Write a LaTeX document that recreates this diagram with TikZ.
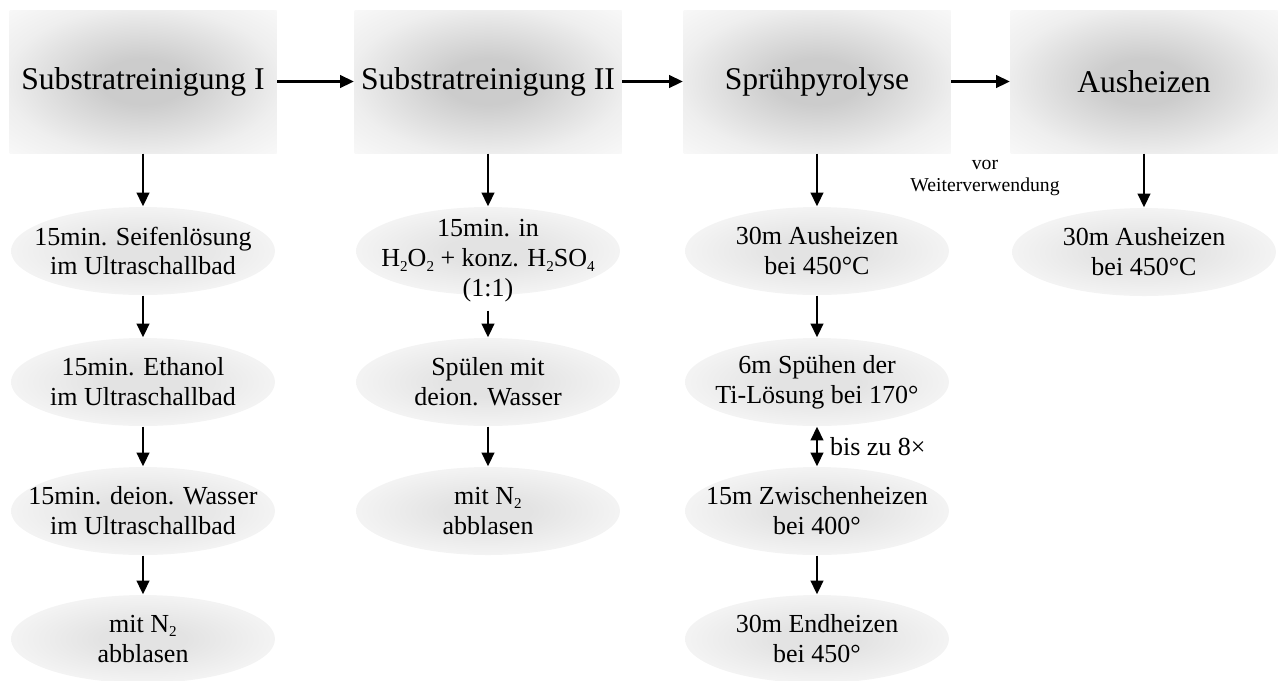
\documentclass[tikz,border=0pt]{standalone}
\usepackage{fontspec}
\setmainfont{Liberation Serif}
\usetikzlibrary{arrows.meta,shapes.geometric}
\newcommand{\chemsub}[1]{\raisebox{-0.35ex}{\fontsize{4.3}{4.3}\selectfont #1}}
\definecolor{boxc}{gray}{0.80}
\definecolor{boxm}{gray}{0.845}
\definecolor{boxn}{gray}{0.89}
\definecolor{boxe}{gray}{0.935}
\definecolor{boxo}{gray}{0.975}
\definecolor{ellc}{gray}{0.89}
\definecolor{elle}{gray}{0.955}
\pgfdeclareradialshading{boxshade}{\pgfpoint{0bp}{0bp}}{color(0bp)=(boxc); color(8bp)=(boxc); color(14bp)=(boxm); color(20bp)=(boxn); color(26bp)=(boxe); color(36bp)=(boxo); color(50bp)=(boxo)}
\pgfdeclareradialshading{ellshade}{\pgfpoint{0bp}{0bp}}{color(0bp)=(ellc); color(8bp)=(ellc); color(25bp)=(elle); color(50bp)=(elle)}
\tikzset{
  stepbox/.style={rectangle, minimum width=26.7mm, minimum height=14.3mm, inner sep=0pt,
    shade, shading=boxshade, font=\fontsize{9}{10.5}\selectfont},
  ellnode/.style={ellipse, minimum width=26.4mm, minimum height=8.8mm, inner sep=0pt,
    shade, shading=ellshade},
  elltext/.style={align=center, font=\fontsize{7.4}{8.5}\selectfont, inner sep=0pt},
  smalltext/.style={align=center, font=\fontsize{5.6}{6.5}\selectfont, inner sep=0pt},
  arr/.style={-{Triangle[length=3.9pt,width=3.6pt]}, line width=0.6pt},
  darr/.style={{Triangle[length=3.9pt,width=3.6pt]}-{Triangle[length=3.9pt,width=3.6pt]}, line width=0.6pt},
}
\begin{document}
\begin{tikzpicture}[x=0.1mm, y=-0.1mm]
\useasboundingbox (0,0) rectangle (1283,680);
% header boxes
\node[stepbox] (a0) at (143,81.5) {Substratreinigung I};
\node[stepbox] (b0) at (488,81.5) {Substratreinigung II};
\node[stepbox] (c0) at (817,81.5) {Sprühpyrolyse};
\node[stepbox] (d0) at (1144,81.5) {Ausheizen};
% column 1
\node[ellnode, label={[elltext]center:{15min. Seifenlösung\\im Ultraschallbad}}] (a1) at (143,251) {};
\node[ellnode, label={[elltext]center:{15min. Ethanol\\im Ultraschallbad}}] (a2) at (143,382) {};
\node[ellnode, label={[elltext]center:{15min. deion. Wasser\\im Ultraschallbad}}] (a3) at (143,511) {};
\node[ellnode, label={[elltext]center:{mit N\chemsub{2}\\abblasen}}] (a4) at (143,639) {};
% column 2
\node[ellnode, label={[elltext,yshift=-1mm]center:{15min. in\\H\chemsub{2}O\chemsub{2} + konz. H\chemsub{2}SO\chemsub{4}\\(1:1)}}] (b1) at (488,251) {};
\node[ellnode, label={[elltext]center:{Spülen mit\\deion. Wasser}}] (b2) at (488,382) {};
\node[ellnode, label={[elltext]center:{mit N\chemsub{2}\\abblasen}}] (b3) at (488,511) {};
% column 3
\node[ellnode, label={[elltext]center:{30m Ausheizen\\bei 450°C}}] (c1) at (817,251) {};
\node[ellnode, label={[elltext]center:{6m Spühen der\\Ti-Lösung bei 170°}}] (c2) at (817,382) {};
\node[ellnode, label={[elltext]center:{15m Zwischenheizen\\bei 400°}}] (c3) at (817,511) {};
\node[ellnode, label={[elltext]center:{30m Endheizen\\bei 450°}}] (c4) at (817,639) {};
% column 4
\node[ellnode, label={[elltext]center:{30m Ausheizen\\bei 450°C}}] (d1) at (1144,252) {};
\node[smalltext] (vw) at (985,178) {vor\\Weiterverwendung};
% connectors
\draw[arr] (a0.east) -- (b0.west);
\draw[arr] (b0.east) -- (c0.west);
\draw[arr] (c0.east) -- (d0.west);
\draw[arr] (a0.south) -- (a1.north);
\draw[arr] (a1.south) -- (a2.north);
\draw[arr] (a2.south) -- (a3.north);
\draw[arr] (a3.south) -- (a4.north);
\draw[arr] (b0.south) -- (b1.north);
\draw[arr] ([yshift=-1.5mm]b1.south) -- (b2.north);
\draw[arr] (b2.south) -- (b3.north);
\draw[arr] (c0.south) -- (c1.north);
\draw[arr] (c1.south) -- (c2.north);
\draw[darr] (c2.south) -- node[midway, right=1.2mm, elltext] (rep) {bis zu 8×} (c3.north);
\draw[arr] (c3.south) -- (c4.north);
\draw[arr] (d0.south) -- (d1.north);
\end{tikzpicture}
\end{document}
